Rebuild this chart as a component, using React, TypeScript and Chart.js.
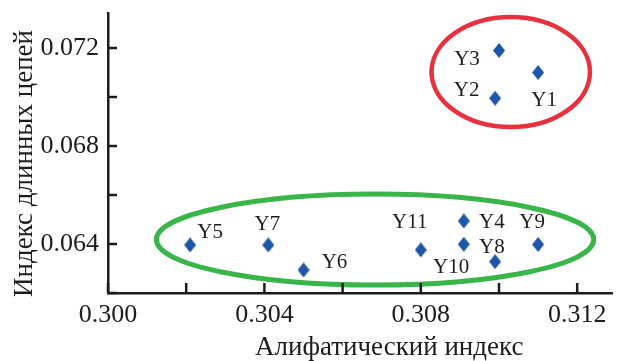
import React, { useEffect, useRef } from 'react';
import { Chart, registerables } from 'chart.js';

Chart.register(...registerables);

// ---- data ----
const pointNames = ['Y1', 'Y2', 'Y3', 'Y4', 'Y5', 'Y6', 'Y7', 'Y8', 'Y9', 'Y10', 'Y11'];
const aliphaticIndex = [0.3110, 0.3099, 0.3100, 0.3091, 0.3021, 0.3050, 0.3041, 0.3091, 0.3110, 0.3099, 0.3080];
const longChainIndex = [0.0710, 0.06995, 0.0719, 0.06494, 0.06396, 0.06294, 0.06396, 0.06399, 0.06398, 0.06328, 0.06376];

const xTickValues = [0.300, 0.302, 0.304, 0.306, 0.308, 0.310, 0.312];
const xTickLabels = ['0.300', '', '0.304', '', '0.308', '', '0.312'];
const yTickValues = [0.062, 0.064, 0.066, 0.068, 0.070, 0.072];
const yTickLabels = ['', '0.064', '', '0.068', '', '0.072'];

const xMin = 0.300;
const xMax = 0.31289;
const yMin = 0.062;
const yMax = 0.07343;

const xTitle = 'Алифатический индекс';
const yTitle = 'Индекс длинных цепей';

// cluster ellipses (data units)
const groupCenterX = [0.31030, 0.30683];
const groupCenterY = [0.07102, 0.06418];
const groupRadiusX = [0.002026, 0.005593];
const groupRadiusY = [0.002245, 0.001857];

// ---- styling / placement ----
const groupColors = ['#e8303e', '#3ab54a'];
const groupLineWidths = [4.5, 5];
const markerColor = '#1f56a8';
const inkColor = '#1f1b1c';
const serif = "'Liberation Serif', 'Times New Roman', serif";

// label center offsets relative to the marker, in pixels
const labelOffsets: Record<string, [number, number]> = {
  Y1: [6, 28],
  Y2: [-28.5, -7.5],
  Y3: [-32, 9],
  Y4: [28, 1.5],
  Y5: [20, -13],
  Y6: [31, -7],
  Y7: [-1, -21],
  Y8: [28, 3],
  Y9: [-6, -22],
  Y10: [-44, 6],
  Y11: [-11, -27.5],
};

function labelFor(values: number[], labels: string[], v: number): string {
  const i = values.findIndex((t) => Math.abs(t - v) < 1e-9);
  return i >= 0 ? labels[i] : '';
}

function makeDiamond(): HTMLCanvasElement {
  const c = document.createElement('canvas');
  c.width = 12;
  c.height = 15;
  const g = c.getContext('2d')!;
  g.fillStyle = markerColor;
  g.beginPath();
  g.moveTo(6, 0);
  g.lineTo(12, 7.5);
  g.lineTo(6, 15);
  g.lineTo(0, 7.5);
  g.closePath();
  g.fill();
  return c;
}

const decorPlugin = {
  id: 'decor',
  beforeDatasetsDraw(chart: any) {
    const { ctx } = chart;
    const x = chart.scales.x;
    const y = chart.scales.y;
    groupCenterX.forEach((cx, i) => {
      const px = x.getPixelForValue(cx);
      const py = y.getPixelForValue(groupCenterY[i]);
      const rx = Math.abs(x.getPixelForValue(cx + groupRadiusX[i]) - px);
      const ry = Math.abs(y.getPixelForValue(groupCenterY[i] + groupRadiusY[i]) - py);
      ctx.save();
      ctx.beginPath();
      ctx.ellipse(px, py, rx, ry, 0, 0, Math.PI * 2);
      ctx.strokeStyle = groupColors[i];
      ctx.lineWidth = groupLineWidths[i];
      ctx.stroke();
      ctx.restore();
    });
  },
  afterDraw(chart: any) {
    const { ctx, chartArea } = chart;
    const x = chart.scales.x;
    const y = chart.scales.y;
    ctx.save();
    // inward tick marks
    ctx.strokeStyle = inkColor;
    ctx.lineWidth = 2.5;
    x.ticks.forEach((t: any) => {
      const px = x.getPixelForValue(t.value);
      ctx.beginPath();
      ctx.moveTo(px, chartArea.bottom);
      ctx.lineTo(px, chartArea.bottom - 10);
      ctx.stroke();
    });
    y.ticks.forEach((t: any) => {
      const py = y.getPixelForValue(t.value);
      ctx.beginPath();
      ctx.moveTo(chartArea.left, py);
      ctx.lineTo(chartArea.left + 9, py);
      ctx.stroke();
    });

    // point labels
    ctx.fillStyle = inkColor;
    ctx.font = `21px ${serif}`;
    ctx.textAlign = 'center';
    ctx.textBaseline = 'middle';
    const meta = chart.getDatasetMeta(0);
    meta.data.forEach((el: any, i: number) => {
      const name = pointNames[i];
      const off = labelOffsets[name] || [0, 0];
      ctx.fillText(name, el.x + off[0], el.y + off[1]);
    });

    // axis titles
    ctx.font = `27px ${serif}`;
    ctx.textBaseline = 'alphabetic';
    ctx.textAlign = 'center';
    const w = chartArea.right - chartArea.left;
    const h = chartArea.bottom - chartArea.top;
    ctx.fillText(xTitle, chartArea.left + w * 0.558, chartArea.bottom + 62);
    ctx.translate(31.5, chartArea.top + h * 0.5375);
    ctx.rotate(-Math.PI / 2);
    ctx.fillText(yTitle, 0, 0);
    ctx.restore();
  },
};

export default function App() {
  const ref = useRef<HTMLCanvasElement | null>(null);
  useEffect(() => {
    if (!ref.current) return;
    const diamond = makeDiamond();
    const chart = new Chart(ref.current, {
      type: 'scatter',
      data: {
        datasets: [
          {
            label: 'samples',
            data: aliphaticIndex.map((v, i) => ({ x: v, y: longChainIndex[i] })),
            pointStyle: diamond as any,
            backgroundColor: markerColor,
            borderColor: markerColor,
          },
        ],
      },
      options: {
        animation: false,
        responsive: false,
        events: [],
        layout: { padding: { top: 13, right: 2, left: 0, bottom: 0 } },
        plugins: { legend: { display: false }, tooltip: { enabled: false } },
        scales: {
          x: {
            type: 'linear',
            min: xMin,
            max: xMax,
            afterBuildTicks: (s: any) => {
              s.ticks = xTickValues.map((v) => ({ value: v }));
            },
            afterFit: (s: any) => {
              s.height = 68;
              s.paddingLeft = 0;
              s.paddingRight = 0;
            },
            grid: { display: false, drawTicks: false },
            border: { display: true, color: inkColor, width: 2.5 },
            ticks: {
              autoSkip: false,
              maxRotation: 0,
              padding: 7,
              color: inkColor,
              font: { family: serif, size: 26 },
              callback: (v: any) => labelFor(xTickValues, xTickLabels, Number(v)),
            },
          },
          y: {
            type: 'linear',
            min: yMin,
            max: yMax,
            afterBuildTicks: (s: any) => {
              s.ticks = yTickValues.map((v) => ({ value: v }));
            },
            afterFit: (s: any) => {
              s.width = 108;
              s.paddingTop = 0;
              s.paddingBottom = 0;
            },
            grid: { display: false, drawTicks: false },
            border: { display: true, color: inkColor, width: 2.5 },
            ticks: {
              autoSkip: false,
              padding: 9,
              color: inkColor,
              font: { family: serif, size: 26 },
              callback: (v: any) => labelFor(yTickValues, yTickLabels, Number(v)),
            },
          },
        },
      },
      plugins: [decorPlugin],
    });
    return () => chart.destroy();
  }, []);
  return (
    <div style={{ position: 'fixed', left: 0, top: 0, width: 617, height: 361, background: '#fff' }}>
      <canvas ref={ref} width={617} height={361} style={{ display: 'block' }} />
    </div>
  );
}
